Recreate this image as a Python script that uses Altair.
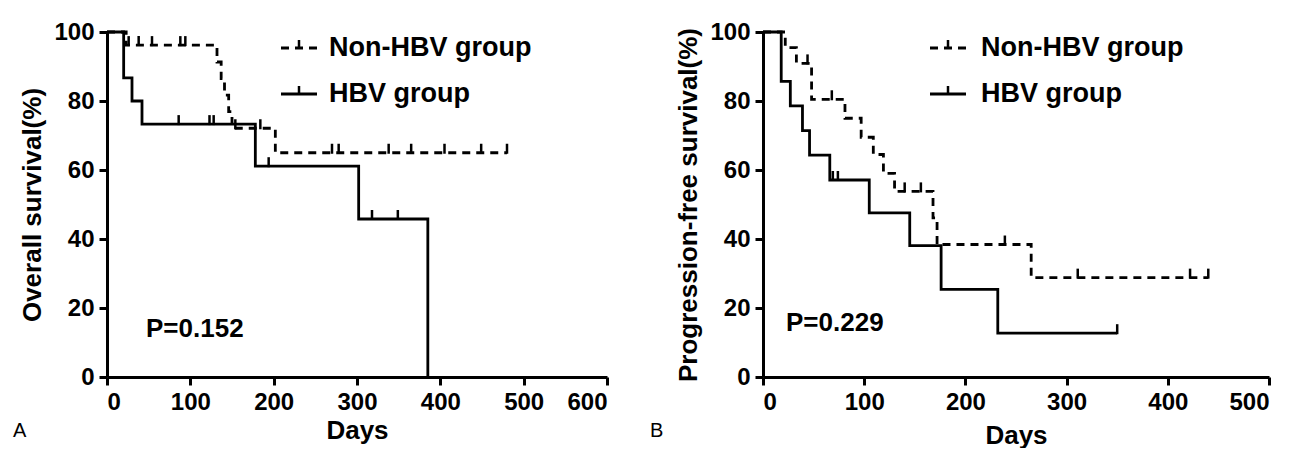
import altair as alt
import pandas as pd

# ---------------- data ----------------
# Panel A: overall survival
os_nonhbv_days = [0, 23, 132, 137, 141, 146, 150, 202, 480]
os_nonhbv_surv = [100, 96.2, 91.3, 86.5, 81.7, 76.9, 72.1, 65.0, 65.0]
os_nonhbv_cens = [26, 38, 54, 88, 94, 154, 184, 270, 278, 338, 365, 405, 449, 480]
os_hbv_days = [0, 20, 30, 42, 178, 302, 385]
os_hbv_surv = [100, 86.7, 80.0, 73.3, 61.1, 45.8, 0]
os_hbv_cens = [86, 123, 128, 194, 318, 349]

# Panel B: progression-free survival
pfs_nonhbv_days = [0, 22, 33, 48, 81, 97, 109, 119, 130, 168, 172, 265, 440]
pfs_nonhbv_surv = [100, 95.5, 90.9, 80.5, 75.0, 69.5, 64.5, 59.0, 53.8, 46.1, 38.4, 28.8, 28.8]
pfs_nonhbv_cens = [44, 68, 140, 156, 239, 311, 422, 440]
pfs_hbv_days = [0, 18, 27, 39, 46, 66, 105, 145, 176, 232, 350]
pfs_hbv_surv = [100, 85.7, 78.6, 71.4, 64.3, 57.1, 47.6, 38.1, 25.4, 12.7, 12.7]
pfs_hbv_cens = [69, 74, 350]

groups = ["Non-HBV group", "HBV group"]
y_titles = ["Overall survival(%)", "Progression-free survival(%)"]
x_title = "Days"
p_values = ["P=0.152", "P=0.229"]
panel_letters = ["A", "B"]
x_max = [600, 500]
y_ticks = [0, 20, 40, 60, 80, 100]

FONT = "Liberation Sans"
DASH = [8, 6]
H = 345


def level_at(days, surv, t):
    v = surv[0]
    for d, s in zip(days, surv):
        if d <= t:
            v = s
    return v


def panel(idx, curves, width, leg_x0, leg_text_x, p_x, p_y, letter_x, xtitle_pad):
    xmax = x_max[idx]
    xs = alt.Scale(domain=[0, xmax], nice=False, zero=True)
    ys = alt.Scale(domain=[0, 100], nice=False)
    xaxis = alt.Axis(values=list(range(0, xmax + 1, 100)), title=x_title, grid=False,
                     titlePadding=xtitle_pad)
    yaxis = alt.Axis(values=y_ticks, title=y_titles[idx], grid=False, titlePadding=8)
    X = lambda: alt.X("day:Q", scale=xs, axis=xaxis)
    Y = lambda: alt.Y("surv:Q", scale=ys, axis=yaxis)
    layers = []
    for gi, (days, surv, cens) in enumerate(curves):
        df = pd.DataFrame({"day": days, "surv": surv, "group": groups[gi]})
        kw = dict(interpolate="step-after", color="black", strokeWidth=2.8)
        if gi == 0:
            kw["strokeDash"] = DASH
        layers.append(alt.Chart(df).mark_line(**kw).encode(x=X(), y=Y()))
        cdf = pd.DataFrame({"day": cens,
                            "surv": [level_at(days, surv, t) for t in cens]})
        layers.append(
            alt.Chart(cdf).mark_tick(orient="vertical", color="black", thickness=2.5,
                                     size=10, yOffset=-4, opacity=1).encode(x=X(), y=Y())
        )
        # legend entry
        ly = 16 + gi * 46
        ldf = pd.DataFrame({"g": [groups[gi]]})
        rule_kw = dict(color="black", strokeWidth=2.8)
        if gi == 0:
            rule_kw["strokeDash"] = DASH
        layers.append(alt.Chart(ldf).mark_rule(**rule_kw).encode(
            x=alt.value(leg_x0), x2=alt.value(leg_x0 + 36), y=alt.value(ly)))
        layers.append(alt.Chart(ldf).mark_rule(color="black", strokeWidth=2.5).encode(
            x=alt.value(leg_x0 + 18), y=alt.value(ly - 8), y2=alt.value(ly)))
        layers.append(alt.Chart(ldf).mark_text(align="left", baseline="middle", font=FONT,
                                               fontSize=27, fontWeight="bold", color="black").encode(
            x=alt.value(leg_text_x), y=alt.value(ly), text="g:N"))
    pdf = pd.DataFrame({"p": [p_values[idx]]})
    layers.append(alt.Chart(pdf).mark_text(align="left", baseline="middle", font=FONT,
                                           fontSize=26, fontWeight="bold", color="black").encode(
        x=alt.value(p_x), y=alt.value(p_y), text="p:N"))
    adf = pd.DataFrame({"l": [panel_letters[idx]]})
    layers.append(alt.Chart(adf).mark_text(align="left", baseline="middle", font=FONT,
                                           fontSize=20, color="black").encode(
        x=alt.value(letter_x), y=alt.value(399), text="l:N"))
    return alt.layer(*layers).properties(width=width, height=H)


left = panel(0, [(os_nonhbv_days, os_nonhbv_surv, os_nonhbv_cens),
                 (os_hbv_days, os_hbv_surv, os_hbv_cens)],
             500, 174, 222, 39, 297, -94, 3)
right = panel(1, [(pfs_nonhbv_days, pfs_nonhbv_surv, pfs_nonhbv_cens),
                  (pfs_hbv_days, pfs_hbv_surv, pfs_hbv_cens)],
              506, 167, 218, 23, 291, -113, 8)

chart = alt.hconcat(left, right, spacing=41).resolve_scale(x="independent").properties(
    padding={"left": 5, "top": 12, "right": 0, "bottom": 0}, background="white"
).configure_view(stroke=None).configure_axis(
    domainColor="black", domainWidth=3, tickColor="black", tickWidth=3, tickSize=8,
    labelFont=FONT, labelFontSize=24, labelFontWeight="bold", labelColor="black",
    labelPadding=5, titleFont=FONT, titleFontSize=26, titleFontWeight="bold",
    titleColor="black"
)

chart.save("out.html", embed_options={"renderer": "svg", "actions": False})
